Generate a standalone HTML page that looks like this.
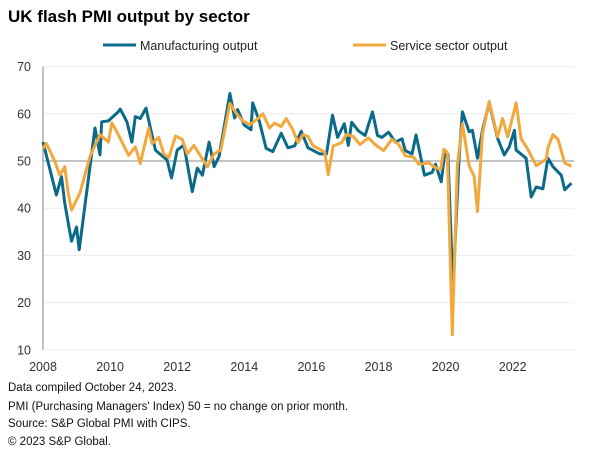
<!DOCTYPE html>
<html><head><meta charset="utf-8"><style>
body{margin:0;background:#fff;font-family:"Liberation Sans",Arial,sans-serif;}
svg text{font-family:"Liberation Sans",Arial,sans-serif;}
</style></head><body>
<svg id="c" width="605" height="457">
<text x="8" y="22" font-size="17" font-weight="bold" fill="#000">UK flash PMI output by sector</text>
<g>
<line x1="103" y1="45" x2="136" y2="45" stroke="#0b6a8a" stroke-width="3"/>
<text x="140" y="50" font-size="12.5" fill="#222">Manufacturing output</text>
<line x1="353" y1="45" x2="386" y2="45" stroke="#f2a83c" stroke-width="3"/>
<text x="390" y="50" font-size="12.5" fill="#222">Service sector output</text>
</g>
<g id="grid"></g><g id="axes"></g><g id="series"></g>
<g font-size="11.5" fill="#111">
<text x="8" y="391">Data compiled October 24, 2023.</text>
<text x="8" y="410">PMI (Purchasing Managers' Index) 50 = no change on prior month.</text>
<text x="8" y="427">Source: S&amp;P Global PMI with CIPS.</text>
<text x="8" y="445">© 2023 S&amp;P Global.</text>
</g>
</svg>
<script>
const yTicks=[10,20,30,40,50,60,70];
const xTicks=[2008,2010,2012,2014,2016,2018,2020,2022];
const mfgDates=[2008.0,2008.4,2008.55,2008.65,2008.85,2009.0,2009.08,2009.55,2009.7,2009.75,2009.95,2010.24,2010.3,2010.5,2010.65,2010.75,2010.9,2011.07,2011.2,2011.35,2011.7,2011.83,2012.0,2012.2,2012.45,2012.6,2012.75,2012.95,2013.1,2013.25,2013.57,2013.71,2013.8,2014.0,2014.2,2014.25,2014.45,2014.65,2014.85,2015.1,2015.3,2015.5,2015.7,2015.9,2016.25,2016.45,2016.63,2016.78,2016.98,2017.1,2017.2,2017.4,2017.6,2017.82,2017.97,2018.1,2018.3,2018.5,2018.7,2018.8,2019.0,2019.12,2019.37,2019.6,2019.7,2019.87,2019.97,2020.07,2020.22,2020.4,2020.5,2020.7,2020.8,2020.95,2021.1,2021.3,2021.55,2021.75,2021.9,2022.05,2022.1,2022.4,2022.55,2022.7,2022.9,2023.05,2023.2,2023.35,2023.45,2023.55,2023.75];
const mfgValues=[54,42.8,46.7,41,33,36,31.2,57,51.3,58.3,58.5,60.4,61,58.3,54,59.4,59,61.2,57,52.3,50.2,46.4,52.3,53.4,43.5,48.5,47,54,48.8,51,64.3,59.1,60.9,57.6,56.6,62.3,58.4,52.7,52,55.9,52.8,53.2,56.3,52.8,51.5,51.5,59.7,55,57.9,53.3,58.2,56.4,55.4,60.4,55.4,55,56.1,54,54.7,52.2,51.5,55.5,47,47.6,49.3,45.6,51.4,51.4,23,50.4,60.4,56.2,56.5,50.6,56.5,62.3,54.8,51.3,53,56.5,52.3,50.6,42.4,44.5,44.1,50.6,48.8,47.7,47,43.9,45.3];
const svcDates=[2008.0,2008.1,2008.35,2008.5,2008.65,2008.75,2008.85,2009.1,2009.4,2009.7,2009.95,2010.05,2010.2,2010.55,2010.75,2010.9,2011.05,2011.15,2011.25,2011.45,2011.6,2011.75,2011.95,2012.15,2012.3,2012.5,2012.7,2012.9,2013.1,2013.3,2013.57,2013.77,2013.97,2014.17,2014.37,2014.55,2014.75,2014.9,2015.1,2015.25,2015.45,2015.6,2015.75,2015.9,2016.05,2016.25,2016.4,2016.5,2016.65,2016.9,2017.05,2017.25,2017.45,2017.7,2017.9,2018.15,2018.4,2018.6,2018.8,2019.05,2019.2,2019.5,2019.7,2019.85,2019.95,2020.05,2020.2,2020.35,2020.5,2020.7,2020.85,2020.95,2021.1,2021.3,2021.55,2021.7,2021.85,2022.1,2022.25,2022.45,2022.7,2023.0,2023.05,2023.2,2023.35,2023.55,2023.75];
const svcValues=[52.6,53.7,50,47,48.8,43.2,39.6,43.2,51,55.6,54,58.1,56.2,51.2,53,49.5,54,57,53.7,55,51.5,50.7,55.3,54.6,51.5,53.3,51,48.8,51.5,52.3,62.2,60,58.4,57.7,58.8,60,57,58,57.3,59,56.6,53.9,55.6,55.2,53.2,52.5,51.8,47.1,53.2,53.9,55.6,55.2,53.5,54.9,53.5,52.2,54.6,53.5,51.1,50.8,49.3,49.6,48.6,48.2,52.5,51.8,13.2,49,57.9,49,46.8,39.3,55.8,62.6,55.1,59,55.1,62.3,54.7,52.5,49,50.4,52.8,55.6,54.6,49.6,48.9];
const NS='http://www.w3.org/2000/svg';
const X0=43,X1=580,T0=2008,PX=33.55;
const xs=t=>X0+(t-T0)*PX;
const ys=v=>161-(v-50)*4.72;
const grid=document.getElementById('grid'),axes=document.getElementById('axes'),ser=document.getElementById('series');
function mk(tag,a){const e=document.createElementNS(NS,tag);for(const k in a)e.setAttribute(k,a[k]);return e;}
yTicks.forEach(v=>{
 const l=mk('line',{x1:X0,x2:X1-6,y1:ys(v),y2:ys(v),stroke:v===50?'#a0a0a0':'#ececec','stroke-width':v===50?1.3:1});
 
 
 grid.appendChild(l);
 const t=mk('text',{x:31,y:ys(v)+4.5,'text-anchor':'end','font-size':12.5,fill:'#333'});
 t.textContent=v;
 
 
 axes.appendChild(t);
});
const ya=mk('line',{x1:X0,x2:X0,y1:ys(70),y2:ys(10),stroke:'#999','stroke-width':1.2});


axes.appendChild(ya);
xTicks.forEach(y=>{
 const t=mk('text',{x:xs(y),y:371,'text-anchor':'middle','font-size':12.5,fill:'#333'});
 t.textContent=y;
 
 
 axes.appendChild(t);
});
function line(d,v,c,name){
 const p=mk('path',{d:d.map((t,i)=>(i?'L':'M')+xs(t).toFixed(1)+','+ys(v[i]).toFixed(1)).join(''),fill:'none',stroke:c,'stroke-width':3,'stroke-linejoin':'round'});
 
 
 ser.appendChild(p);
}
line(mfgDates,mfgValues,'#0b6a8a','manufacturing-line');
line(svcDates,svcValues,'#f2a83c','services-line');
</script>
</body></html>
